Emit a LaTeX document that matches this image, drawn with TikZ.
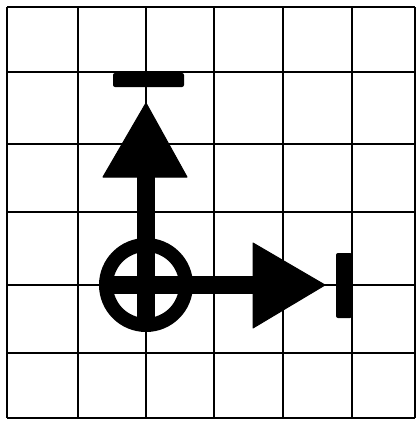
\documentclass[tikz,border=0pt]{standalone}
\begin{document}
\begin{tikzpicture}[x=1pt,y=-1pt,
  gridline/.style={line width=1.4pt,black},
  shaft/.style={line width=18pt,black},
  thinline/.style={line width=1.4pt,black},
  head/.style={fill=black,draw=black,line width=1pt,line join=round},
  stopbar/.style={fill=black,rounded corners=2pt}]
\useasboundingbox (0,0) rectangle (417,421);
% grid
\foreach \x in {7,78,146,214,283,352,415} \draw[gridline] (\x,7) -- (\x,418);
\foreach \y in {7,72,144,212,285,353,418} \draw[gridline] (7,\y) -- (415,\y);
% coordinates
\coordinate (c) at (146,285);
\coordinate (vbase) at (146,177);
\coordinate (vtip) at (146,103);
\coordinate (vbar) at (146,87);
\coordinate (hbase) at (253,285);
\coordinate (htip) at (325,285);
\coordinate (hbar) at (336,285);
% shafts
\draw[shaft] (146,240) -- (vbase);
\draw[shaft] (101,285) -- (hbase);
% circle with cross
\draw[black,line width=14pt] (c) circle (40);
\draw[black,line width=18pt] (146,240) -- (146,330);
% arrowheads
\filldraw[head] (103,177) -- (vtip) -- (187,177) -- cycle;
\filldraw[head] (253,243) -- (htip) -- (253,328) -- cycle;
% thin links
\draw[thinline] (vtip) -- (vbar);
\draw[thinline] (htip) -- (hbar);
% stop bars
\fill[stopbar] (113,73) rectangle (184,87);
\fill[stopbar] (336,253) rectangle (352,318);
\end{tikzpicture}
\end{document}
